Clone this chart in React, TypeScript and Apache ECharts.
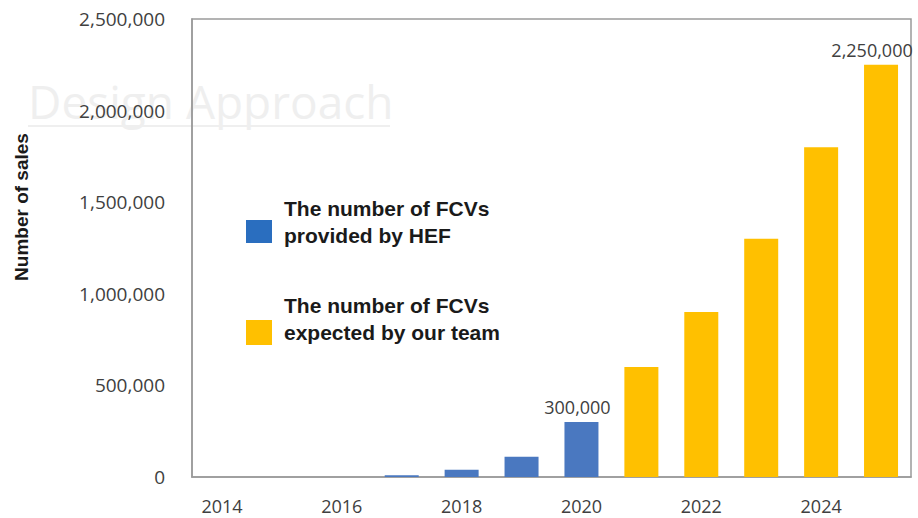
import React, { useEffect, useRef } from "react";
import * as echarts from "echarts";

const years = ["2014", "2015", "2016", "2017", "2018", "2019", "2020", "2021", "2022", "2023", "2024", "2025"];
const hefSales: (number | null)[] = [0, 0, 0, 10000, 40000, 110000, 300000, null, null, null, null, null];
const teamSales: (number | null)[] = [null, null, null, null, null, null, null, 600000, 900000, 1300000, 1800000, 2250000];
const labelledYears = ["2020", "2025"];
const yTicks = [0, 500000, 1000000, 1500000, 2000000, 2500000];
const hefName = "The number of FCVs\nprovided by HEF";
const teamName = "The number of FCVs\nexpected by our team";
const yTitle = "Number of sales";
const watermark = "Design Approach";

const fmt = (v: number) => v.toLocaleString("en-US");

export default function App() {
  const ref = useRef<HTMLDivElement>(null);
  useEffect(() => {
    if (!ref.current) return;
    const chart = echarts.init(ref.current, undefined, { renderer: "svg" });
    const labelStyle = (i: number) => ({
      show: true,
      position: "top" as const,
      distance: 6,
      offset: [i === years.length - 1 ? -9 : -4, 0],
      formatter: (p: any) => fmt(p.value),
      fontFamily: "Open Sans",
      fontSize: 18,
      color: "#404040",
    });
    const mk = (arr: (number | null)[]) =>
      arr.map((v, i) =>
        v !== null && labelledYears.includes(years[i]) ? { value: v, label: labelStyle(i) } : v
      );
    chart.setOption({
      animation: false,
      backgroundColor: "#ffffff",
      grid: {
        left: 192,
        right: 7,
        top: 19,
        bottom: 41,
        show: true,
        borderColor: "#9a9a9a",
        borderWidth: 1.5,
      },
      xAxis: {
        type: "category",
        data: years,
        axisTick: { show: false },
        axisLine: { lineStyle: { color: "#9a9a9a", width: 1.5 } },
        axisLabel: {
          interval: 1,
          margin: 20,
          fontFamily: "Open Sans",
          fontSize: 18,
          color: "#404040",
        },
      },
      yAxis: {
        type: "value",
        min: yTicks[0],
        max: yTicks[yTicks.length - 1],
        interval: yTicks[1] - yTicks[0],
        splitLine: { show: false },
        axisTick: { show: false },
        axisLine: { show: true, lineStyle: { color: "#9a9a9a", width: 1.5 } },
        axisLabel: {
          margin: 27,
          formatter: (v: number) => fmt(v),
          fontFamily: "Open Sans",
          fontSize: 19,
          color: "#404040",
        },
      },
      graphic: [
        {
          type: "text",
          z: -10,
          left: 28,
          top: 78,
          style: {
            text: watermark,
            fontFamily: "Open Sans",
            fontSize: 46,
            fill: "#efefef",
          },
        },
        {
          type: "line",
          z: -10,
          shape: { x1: 28, y1: 126, x2: 390, y2: 126 },
          style: { stroke: "#efefef", lineWidth: 2 },
        },
        {
          type: "text",
          x: 21,
          y: 207,
          rotation: Math.PI / 2,
          style: {
            text: yTitle,
            fontFamily: "Liberation Sans",
            fontWeight: "bold",
            fontSize: 19,
            fill: "#1a1a1a",
            align: "center",
            verticalAlign: "middle",
          },
        },
        {
          type: "rect",
          shape: { x: 246, y: 220, width: 26, height: 23 },
          style: { fill: "#2a6ebf" },
        },
        {
          type: "text",
          x: 284,
          y: 195,
          style: {
            text: hefName,
            fontFamily: "Liberation Sans",
            fontWeight: "bold",
            fontSize: 21,
            lineHeight: 27,
            fill: "#1a1a1a",
          },
        },
        {
          type: "rect",
          shape: { x: 246, y: 320, width: 26, height: 25 },
          style: { fill: "#FFC000" },
        },
        {
          type: "text",
          x: 284,
          y: 292,
          style: {
            text: teamName,
            fontFamily: "Liberation Sans",
            fontWeight: "bold",
            fontSize: 21,
            lineHeight: 27,
            fill: "#1a1a1a",
          },
        },
      ],
      series: [
        {
          name: hefName,
          type: "bar",
          data: mk(hefSales),
          barWidth: 34,
          barGap: "-100%",
          itemStyle: { color: "#4a78c0" },
        },
        {
          name: teamName,
          type: "bar",
          data: mk(teamSales),
          barWidth: 34,
          barGap: "-100%",
          itemStyle: { color: "#FFC000" },
        },
      ],
    });
    return () => chart.dispose();
  }, []);
  return (
    <div
      ref={ref}
      style={{ position: "fixed", left: 0, top: 0, width: 918, height: 518 }}
    />
  );
}
